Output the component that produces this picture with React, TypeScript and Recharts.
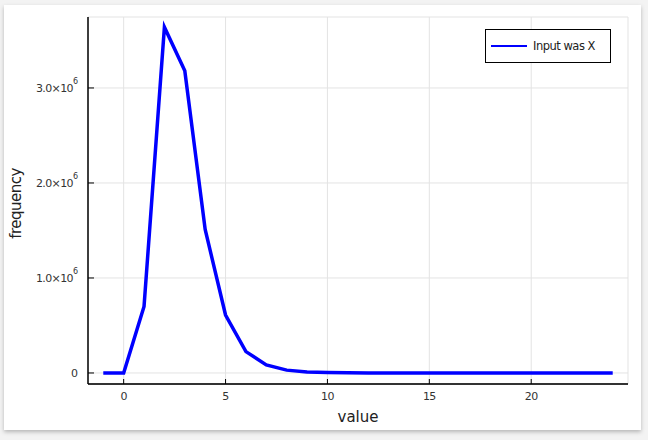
import React from "react";
import {
  LineChart,
  Line,
  XAxis,
  YAxis,
  CartesianGrid,
  Legend,
  Label,
} from "recharts";

// observed value -> how often it turned up
const values = [-1, 0, 1, 2, 3, 4, 5, 6, 7, 8, 9, 10, 11, 12, 13, 14, 15, 16, 17, 18, 19, 20, 21, 22, 23, 24];
const frequencies = [
  0, 0, 700000, 3640000, 3180000, 1510000, 610000, 225000, 85000, 30000, 10000, 4000, 1500,
  500, 150, 50, 15, 5, 1, 0, 0, 0, 0, 0, 0, 0,
];
const xTicks = [0, 5, 10, 15, 20];
const yTicks = [0, 1000000, 2000000, 3000000];
const seriesName = "Input was X";

const data = values.map((v, i) => ({ value: v, frequency: frequencies[i] }));

const FONT = "'DejaVu Sans', sans-serif";
const TICK_COLOR = "#333";

const YTick = (props: any) => {
  const { x, y, payload } = props;
  const v = payload.value as number;
  const axisX = x + 10;
  return (
    <g>
      <line x1={axisX} x2={axisX + 6} y1={y} y2={y} stroke="#000" strokeWidth={1} />
      {v === 0 ? (
        <text x={x} y={y} dy="0.35em" textAnchor="end" fontSize={11} fontFamily={FONT} fill={TICK_COLOR}>
          0
        </text>
      ) : (
        <text x={x - 5} y={y} dy="0.35em" textAnchor="end" fontSize={11} fontFamily={FONT} fill={TICK_COLOR} letterSpacing={-0.6}>
          {(v / 1e6).toFixed(1)}×10
        </text>
      )}
      {v !== 0 && (
        <text x={x - 5} y={y - 4} textAnchor="start" fontSize={8} fontFamily={FONT} fill={TICK_COLOR}>
          6
        </text>
      )}
    </g>
  );
};

const XTick = (props: any) => {
  const { x, y, payload } = props;
  const axisY = y - 12;
  return (
    <g>
      <line x1={x} x2={x} y1={axisY} y2={axisY - 5} stroke="#000" strokeWidth={1} />
      <text x={x} y={y} dy="0.35em" textAnchor="middle" fontSize={11} fontFamily={FONT} fill={TICK_COLOR} letterSpacing={-0.6}>
        {payload.value}
      </text>
    </g>
  );
};

const LegendBox = (props: any) => {
  const { payload } = props;
  return (
    <div
      style={{
        width: 124,
        height: 32,
        border: "1px solid #000",
        background: "#fff",
        display: "flex",
        alignItems: "center",
        fontFamily: FONT,
        fontSize: 11.5,
        color: "#222",
        letterSpacing: -0.5,
      }}
    >
      {(payload || []).map((entry: any) => (
        <div key={entry.value} style={{ display: "flex", alignItems: "center" }}>
          <div style={{ width: 36, height: 2, background: entry.color, marginLeft: 5, marginRight: 6 }} />
          <span>{entry.value}</span>
        </div>
      ))}
    </div>
  );
};

const YLabel = (props: any) => {
  const { viewBox } = props;
  const cx = viewBox.x + 16;
  const cy = viewBox.y + viewBox.height / 2 + 3;
  return (
    <text
      x={cx}
      y={cy}
      transform={`rotate(-90, ${cx}, ${cy})`}
      textAnchor="middle"
      dominantBaseline="central"
      fontSize={15}
      fontFamily={FONT}
      fill="#222"
      letterSpacing={-0.5}
    >
      frequency
    </text>
  );
};

const App: React.FC = () => {
  return (
    <div style={{ position: "absolute", left: 0, top: 0, width: 648, height: 440, background: "#f3f3f3" }}>
      <div
        style={{
          position: "absolute",
          left: 4,
          top: 5,
          width: 637,
          height: 425,
          background: "#fff",
          boxShadow: "0 2px 4px rgba(0,0,0,0.25)",
        }}
      />
      <div style={{ position: "absolute", left: 0, top: 0 }}>
        <LineChart width={648} height={440} data={data} margin={{ top: 17, right: 20, left: 0, bottom: 8 }}>
          <CartesianGrid stroke="#e3e3e3" strokeWidth={1} />
          <XAxis
            dataKey="value"
            type="number"
            domain={[-1.75, 24.75]}
            ticks={xTicks}
            height={48}
            axisLine={{ stroke: "#333", strokeWidth: 2 }}
            tickLine={false}
            tickSize={0}
            tickMargin={12}
            tick={<XTick />}
          >
            <Label value="value" position="insideBottom" offset={10} fontSize={15} fontFamily={FONT} fill="#222" />
          </XAxis>
          <YAxis
            type="number"
            domain={[-116000, 3747000]}
            ticks={yTicks}
            width={88}
            axisLine={{ stroke: "#000", strokeWidth: 1.5 }}
            tickLine={false}
            tickSize={0}
            tickMargin={10}
            tick={<YTick />}
          >
            <Label content={<YLabel />} />
          </YAxis>
          <Legend
            verticalAlign="middle"
            align="center"
            layout="vertical"
            wrapperStyle={{ position: "absolute", top: 29, left: 485, width: 126, right: "auto", bottom: "auto" }}
            content={<LegendBox />}
          />
          <Line
            type="linear"
            dataKey="frequency"
            name={seriesName}
            stroke="#0000ff"
            strokeWidth={3.5}
            dot={false}
            activeDot={false}
            isAnimationActive={false}
          />
        </LineChart>
      </div>
    </div>
  );
};

export default App;
